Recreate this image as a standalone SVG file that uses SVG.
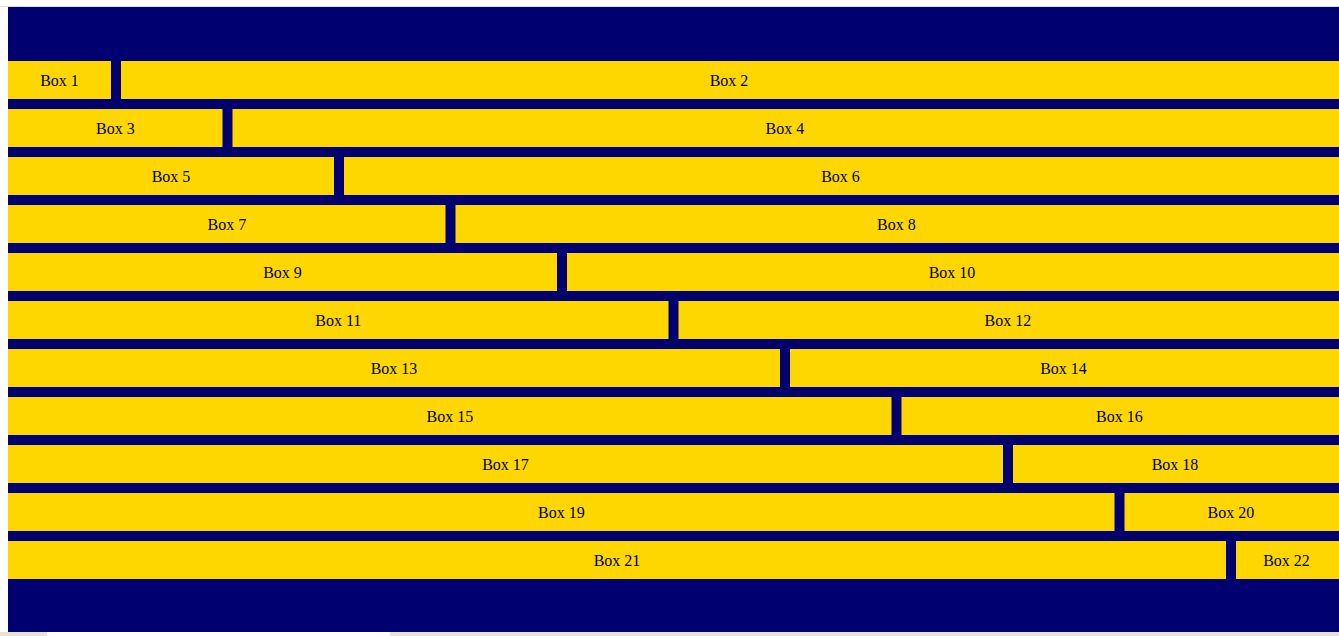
<svg xmlns="http://www.w3.org/2000/svg" width="1339" height="636" viewBox="0 0 1339 636">
<style>
.box{fill:#FFD700}
.lbl{font-family:"Liberation Serif","Times New Roman",serif;font-size:16px;fill:#000;text-anchor:middle;dominant-baseline:central}
</style>
<rect x="0" y="0" width="1339" height="636" fill="#ffffff"/>
<rect x="0" y="6" width="1339" height="1" fill="#dddddd"/>
<rect x="8" y="7" width="1331" height="625" fill="#000070"/>
<rect x="0" y="632" width="1339" height="4" fill="#e9e1d1"/>
<rect x="47" y="632" width="343" height="4" fill="#ffffff"/>
<g id="row1"><g id="box1"><rect class="box" x="8" y="61" width="103" height="38"/><text class="lbl" x="59.5" y="80">Box 1</text></g><g id="box2"><rect class="box" x="121" y="61" width="1218" height="38"/><text class="lbl" x="729" y="80">Box 2</text></g></g>
<g id="row2"><g id="box3"><rect class="box" x="8" y="109" width="214.5" height="38"/><text class="lbl" x="115.3" y="128">Box 3</text></g><g id="box4"><rect class="box" x="232.5" y="109" width="1106.5" height="38"/><text class="lbl" x="784.8" y="128">Box 4</text></g></g>
<g id="row3"><g id="box5"><rect class="box" x="8" y="157" width="326" height="38"/><text class="lbl" x="171" y="176">Box 5</text></g><g id="box6"><rect class="box" x="344" y="157" width="995" height="38"/><text class="lbl" x="840.5" y="176">Box 6</text></g></g>
<g id="row4"><g id="box7"><rect class="box" x="8" y="205" width="437.5" height="38"/><text class="lbl" x="226.8" y="224">Box 7</text></g><g id="box8"><rect class="box" x="455.5" y="205" width="883.5" height="38"/><text class="lbl" x="896.3" y="224">Box 8</text></g></g>
<g id="row5"><g id="box9"><rect class="box" x="8" y="253" width="549" height="38"/><text class="lbl" x="282.5" y="272">Box 9</text></g><g id="box10"><rect class="box" x="567" y="253" width="772" height="38"/><text class="lbl" x="952" y="272">Box 10</text></g></g>
<g id="row6"><g id="box11"><rect class="box" x="8" y="301" width="660.5" height="38"/><text class="lbl" x="338.3" y="320">Box 11</text></g><g id="box12"><rect class="box" x="678.5" y="301" width="660.5" height="38"/><text class="lbl" x="1007.8" y="320">Box 12</text></g></g>
<g id="row7"><g id="box13"><rect class="box" x="8" y="349" width="772" height="38"/><text class="lbl" x="394" y="368">Box 13</text></g><g id="box14"><rect class="box" x="790" y="349" width="549" height="38"/><text class="lbl" x="1063.5" y="368">Box 14</text></g></g>
<g id="row8"><g id="box15"><rect class="box" x="8" y="397" width="883.5" height="38"/><text class="lbl" x="449.8" y="416">Box 15</text></g><g id="box16"><rect class="box" x="901.5" y="397" width="437.5" height="38"/><text class="lbl" x="1119.3" y="416">Box 16</text></g></g>
<g id="row9"><g id="box17"><rect class="box" x="8" y="445" width="995" height="38"/><text class="lbl" x="505.5" y="464">Box 17</text></g><g id="box18"><rect class="box" x="1013" y="445" width="326" height="38"/><text class="lbl" x="1175" y="464">Box 18</text></g></g>
<g id="row10"><g id="box19"><rect class="box" x="8" y="493" width="1106.5" height="38"/><text class="lbl" x="561.3" y="512">Box 19</text></g><g id="box20"><rect class="box" x="1124.5" y="493" width="214.5" height="38"/><text class="lbl" x="1230.8" y="512">Box 20</text></g></g>
<g id="row11"><g id="box21"><rect class="box" x="8" y="541" width="1218" height="38"/><text class="lbl" x="617" y="560">Box 21</text></g><g id="box22"><rect class="box" x="1236" y="541" width="103" height="38"/><text class="lbl" x="1286.5" y="560">Box 22</text></g></g>
<g id="connectors"></g>
</svg>
